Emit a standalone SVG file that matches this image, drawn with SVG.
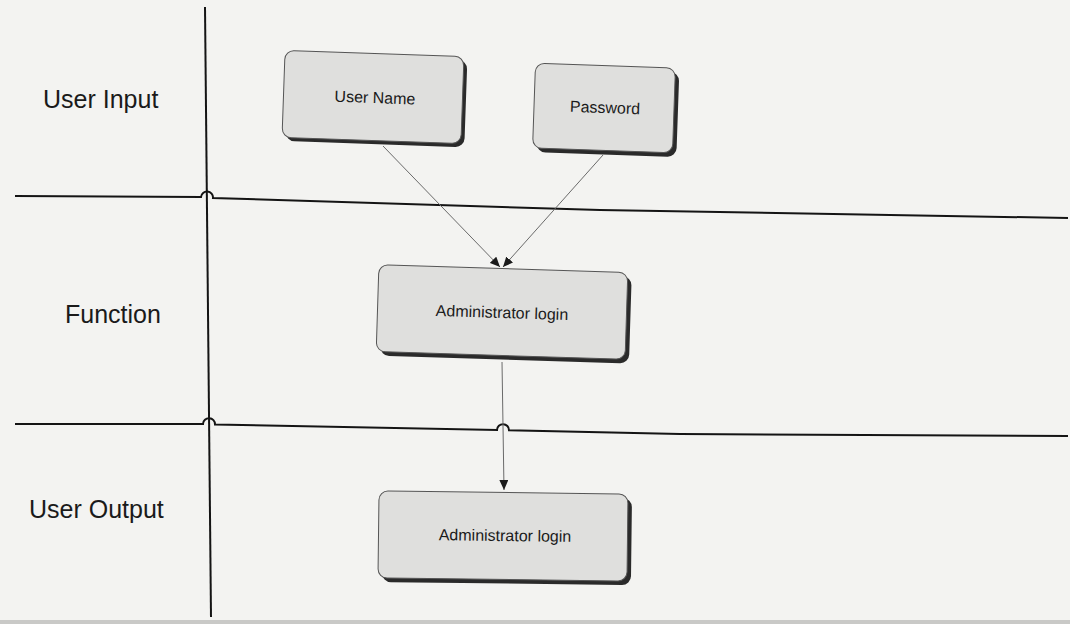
<svg xmlns="http://www.w3.org/2000/svg" width="1070" height="624" viewBox="0 0 1070 624">
  <defs>
    <marker id="arrow" markerUnits="userSpaceOnUse" markerWidth="11" markerHeight="9" refX="10" refY="4.5" orient="auto">
      <path d="M0,0 L10,4.5 L0,9 Z" fill="#1a1a1a"/>
    </marker>
    <style>
      .lane { fill: none; stroke: #141414; stroke-width: 2; }
      .conn { fill: none; stroke: #6a6a6a; stroke-width: 1; }
      .box { fill: #dfdfdd; stroke: #555; stroke-width: 1; }
      .shadow { fill: #2a2a2a; }
      .lbl { font-family: "Liberation Sans", Arial, sans-serif; font-size: 25px; fill: #1a1a1a; }
      .txt { font-family: "Liberation Sans", Arial, sans-serif; font-size: 16px; fill: #1a1a1a; text-anchor: middle; }
    </style>
  </defs>
  <rect x="0" y="0" width="1070" height="624" fill="#f3f3f1"/>
  <rect x="0" y="620" width="1070" height="4" fill="#c9c9c7"/>

  <g id="lanes">
    <path class="lane" d="M205,7 L211,617"/>
    <path class="lane" d="M15,196 L201,197 A6,6 0 0 1 213,198 L600,210 L1068,218"/>
    <path class="lane" d="M15,424 L203,424 A6,6 0 0 1 215,424.5 L497,430 A6,6 0 0 1 509,430.3 L680,434 L1068,436"/>
  </g>

  <g id="labels">
    <text class="lbl" x="43" y="108">User Input</text>
    <text class="lbl" x="65" y="323">Function</text>
    <text class="lbl" x="29" y="518">User Output</text>
  </g>

  <g id="connectors">
    <path class="conn" d="M383,146 L500,267" marker-end="url(#arrow)"/>
    <path class="conn" d="M603,155 L503,267" marker-end="url(#arrow)"/>
    <path class="conn" d="M502,362 L504,490" marker-end="url(#arrow)"/>
  </g>

  <g id="node-username" transform="translate(373,97) rotate(2)">
    <rect class="shadow" x="-86" y="-40" width="179" height="87" rx="9"/>
    <rect class="box" x="-89.5" y="-43.5" width="179" height="87" rx="9"/>
    <text class="txt" x="2" y="6">User Name</text>
  </g>

  <g id="node-password" transform="translate(604,108) rotate(2)">
    <rect class="shadow" x="-66" y="-38.5" width="140" height="85" rx="9"/>
    <rect class="box" x="-70" y="-42.5" width="140" height="85" rx="9"/>
    <text class="txt" x="1" y="5">Password</text>
  </g>

  <g id="node-function" transform="translate(502,312) rotate(1.8)">
    <rect class="shadow" x="-120.5" y="-39.5" width="249" height="87" rx="9"/>
    <rect class="box" x="-124.5" y="-43.5" width="249" height="87" rx="9"/>
    <text class="txt" x="0" y="6">Administrator login</text>
  </g>

  <g id="node-output" transform="translate(503,536) rotate(0.7)">
    <rect class="shadow" x="-120.5" y="-39.5" width="249" height="87" rx="9"/>
    <rect class="box" x="-124.5" y="-43.5" width="249" height="87" rx="9"/>
    <text class="txt" x="2" y="5">Administrator login</text>
  </g>
</svg>
